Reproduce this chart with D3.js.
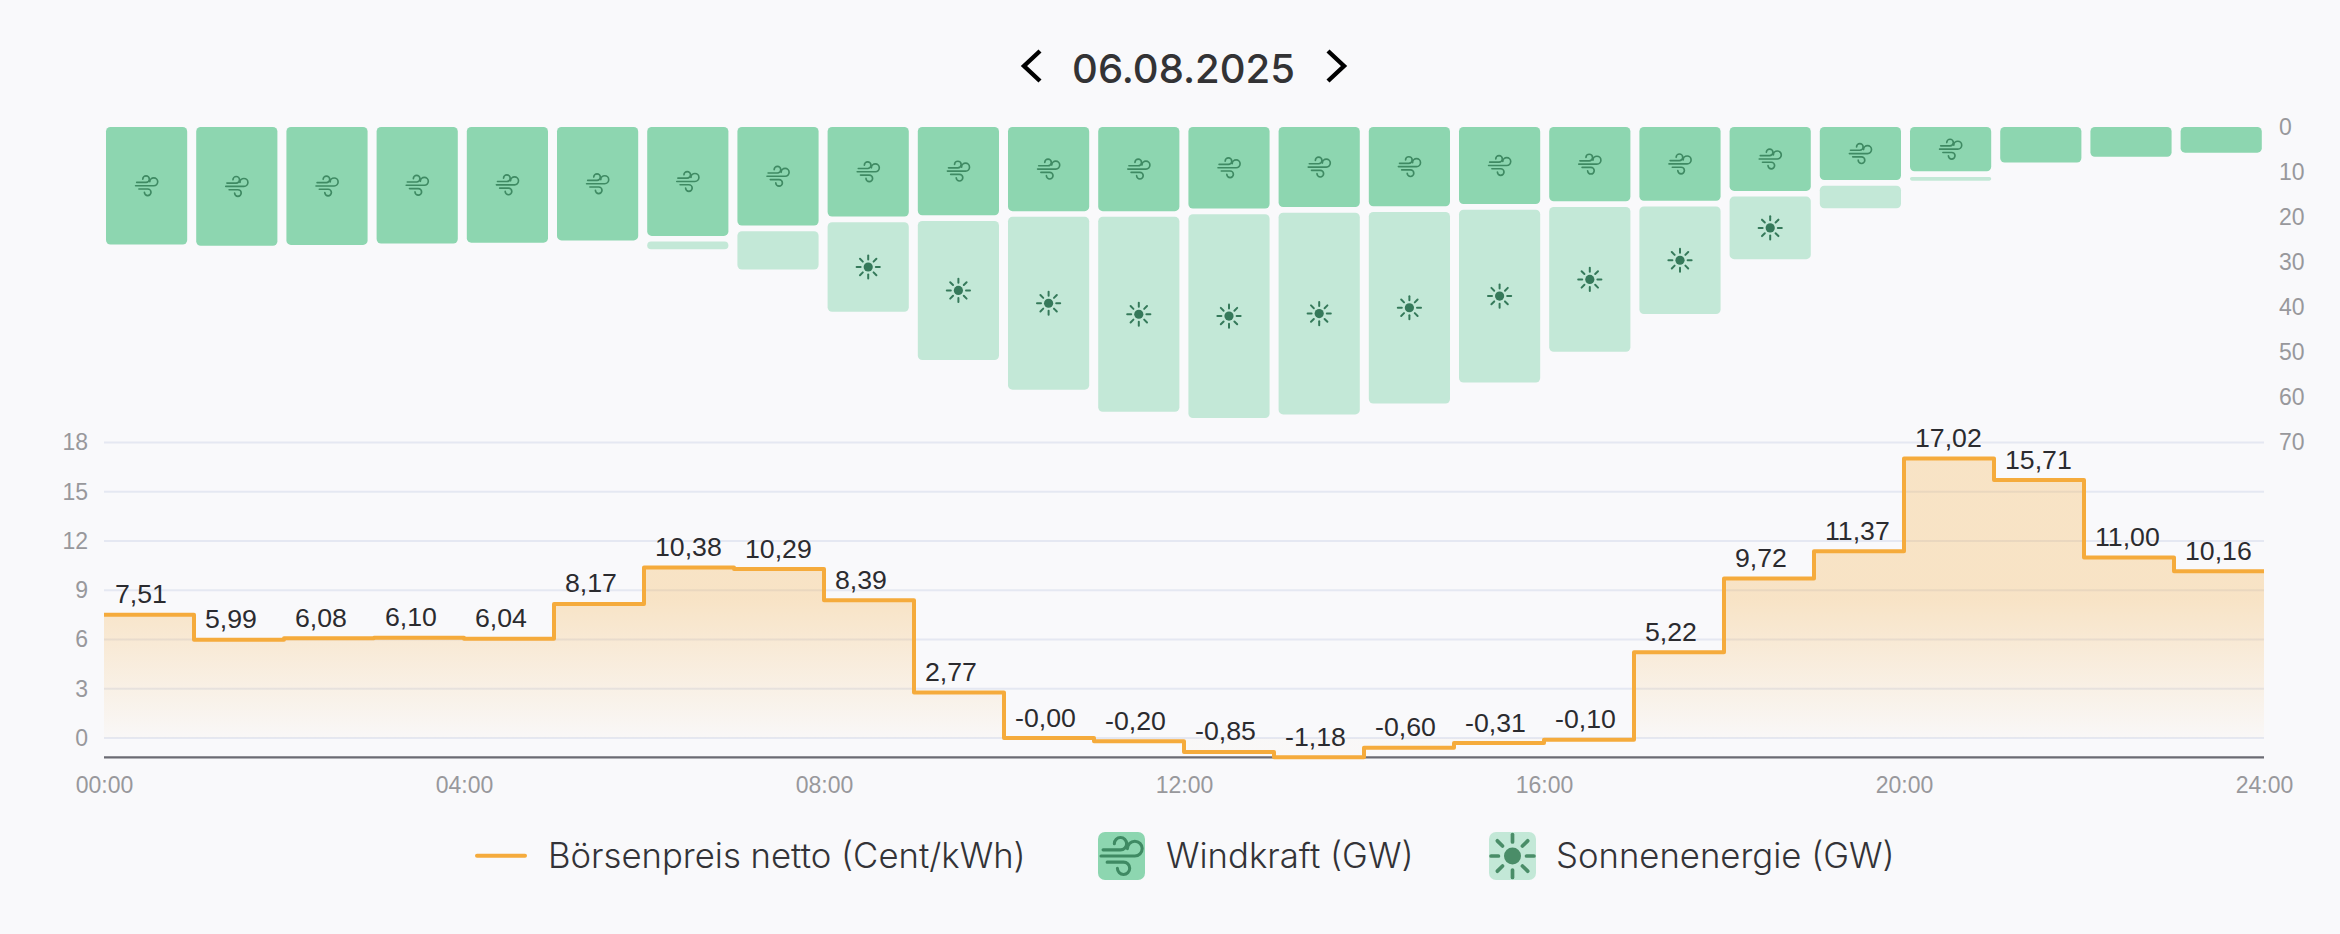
<!DOCTYPE html>
<html lang="de">
<head>
    <meta charset="UTF-8">
    <title>Börsenpreis, Windkraft und Sonnenenergie</title>
    <script src="https://d3js.org/d3.v7.min.js"></script>
    <style>
        html, body { margin: 0; padding: 0; background-color: #f9f9fb; }
        svg { display: block; }
        .axis text { font-family: 'Liberation Sans', sans-serif; font-size: 23px; fill: #98989c; }
        .price-label { font-family: 'Liberation Sans', sans-serif; font-size: 26.7px; fill: #2b2b2f; }
        .legend-label { font-family: 'Inter', sans-serif; font-weight: 300; font-size: 34.7px; fill: #333337; }
        .title { font-family: 'Inter', sans-serif; font-weight: 500; font-size: 40px; fill: #333335; }
    </style>
</head>
<body>
    <svg width="2340" height="934"></svg>

    <script>
        // data
        const hours = d3.range(24);
        const priceValues = [7.51, 5.99, 6.08, 6.10, 6.04, 8.17, 10.38, 10.29, 8.39, 2.77, -0.00, -0.20,
                             -0.85, -1.18, -0.60, -0.31, -0.10, 5.22, 9.72, 11.37, 17.02, 15.71, 11.00, 10.16];
        const priceLabels = ["7,51", "5,99", "6,08", "6,10", "6,04", "8,17", "10,38", "10,29", "8,39", "2,77", "-0,00", "-0,20",
                             "-0,85", "-1,18", "-0,60", "-0,31", "-0,10", "5,22", "9,72", "11,37", "17,02", "15,71", "11,00", "10,16"];
        const windValues = [26.1, 26.4, 26.2, 25.9, 25.7, 25.2, 24.2, 21.9, 19.9, 19.6, 18.7, 18.7,
                            18.1, 17.8, 17.6, 17.1, 16.5, 16.4, 14.2, 11.8, 9.85, 7.9, 6.6, 5.7];
        const solarValues = [0, 0, 0, 0, 0, 0, 1.7, 8.5, 19.9, 30.9, 38.4, 43.3,
                             45.3, 44.8, 42.6, 38.4, 32.2, 23.9, 13.9, 5.0, 0.8, 0, 0, 0];
        const priceTicks = [0, 3, 6, 9, 12, 15, 18];
        const powerTicks = [0, 10, 20, 30, 40, 50, 60, 70];
        const hourTicks = [0, 4, 8, 12, 16, 20, 24];
        const dateLabel = "06.08.2025";
        const legendLabels = ["Börsenpreis netto (Cent/kWh)", "Windkraft (GW)", "Sonnenenergie (GW)"];

        const colors = { wind: "#8dd6b0", solar: "#c3e8d7", icon: "#3f8a63", sun: "#35795a", price: "#f5ab3c",
                         grid: "#e5e8f2", axis: "#6b6b73" };

        const svg = d3.select("svg");
        const left = 104, right = 2264, barGap = 5.7, iconMinHeight = 40;

        // Scales
        const xTime = d3.scaleLinear().domain([0, 24]).range([left, right]);
        const xBand = d3.scaleBand().domain(hours).range([101.5, 2266.3]).paddingInner(0.1).paddingOuter(0.05);
        const yPower = d3.scaleLinear().domain([0, 70]).range([127, 442]);
        const yPrice = d3.scaleLinear().domain([0, 18]).range([738, 442.5]);

        // Gradient under the price line
        const gradient = svg.append("defs").append("linearGradient")
            .attr("id", "priceFill")
            .attr("gradientUnits", "userSpaceOnUse")
            .attr("x1", 0).attr("x2", 0)
            .attr("y1", yPrice(17.02)).attr("y2", yPrice(0));
        gradient.selectAll("stop")
            .data([{ offset: "0%", opacity: 0.28 }, { offset: "50%", opacity: 0.28 }, { offset: "100%", opacity: 0.02 }])
            .enter().append("stop")
            .attr("offset", d => d.offset)
            .attr("stop-color", colors.price)
            .attr("stop-opacity", d => d.opacity);

        // Title with arrows
        svg.append("text").attr("class", "title")
            .attr("x", 1183.5).attr("y", 82.7).attr("text-anchor", "middle").text(dateLabel);
        svg.selectAll(".chevron")
            .data(["M1040 51L1024 66L1040 81", "M1328 51L1344 66L1328 81"])
            .enter().append("path")
            .attr("class", "chevron")
            .attr("d", d => d)
            .attr("fill", "none").attr("stroke", "#000").attr("stroke-width", 4.4);

        // Grid lines
        svg.append("g").selectAll("line")
            .data(priceTicks)
            .enter().append("line")
            .attr("x1", left).attr("x2", right)
            .attr("y1", d => yPrice(d)).attr("y2", d => yPrice(d))
            .attr("stroke", colors.grid).attr("stroke-width", 2);

        // Icons
        function windIcon(g, scale, stroke) {
            g.append("path")
                .attr("transform", `scale(${scale}) translate(-12,-12.5)`)
                .attr("d", "M3 9.5H11.5A3 3 0 1 0 8.5 6.5M2 12.5H18.5A3.6 3.6 0 1 0 14.9 8.9M5 15.5H13A3 3 0 1 1 10 18.5")
                .attr("fill", "none")
                .attr("stroke", stroke)
                .attr("stroke-width", 1.5)
                .attr("stroke-linecap", "round");
        }

        function sunIcon(g, scale, stroke) {
            g.append("circle").attr("r", 4.6 * scale).attr("fill", stroke);
            g.selectAll("line")
                .data(d3.range(8))
                .enter().append("line")
                .attr("transform", d => `rotate(${d * 45})`)
                .attr("y1", -7.6 * scale).attr("y2", -11.6 * scale)
                .attr("stroke", stroke)
                .attr("stroke-width", 2 * scale)
                .attr("stroke-linecap", "round");
        }

        // Power bars
        const barData = hours.map(h => ({ hour: h, wind: windValues[h], solar: solarValues[h] }));

        const windBars = svg.append("g").selectAll("g").data(barData).enter().append("g");
        windBars.append("rect")
            .attr("x", d => xBand(d.hour))
            .attr("y", yPower(0))
            .attr("width", xBand.bandwidth())
            .attr("height", d => yPower(d.wind) - yPower(0))
            .attr("rx", 4.5)
            .attr("fill", colors.wind);
        windBars.filter(d => yPower(d.wind) - yPower(0) > iconMinHeight)
            .append("g")
            .attr("transform", d => `translate(${xBand(d.hour) + xBand.bandwidth() / 2},${(yPower(0) + yPower(d.wind)) / 2})`)
            .each(function () { windIcon(d3.select(this), 1.1, colors.icon); });

        const solarBars = svg.append("g").selectAll("g").data(barData.filter(d => d.solar > 0)).enter().append("g");
        solarBars.append("rect")
            .attr("x", d => xBand(d.hour))
            .attr("y", d => yPower(d.wind) + barGap)
            .attr("width", xBand.bandwidth())
            .attr("height", d => yPower(d.solar) - yPower(0))
            .attr("rx", d => Math.min(4.5, (yPower(d.solar) - yPower(0)) / 2))
            .attr("fill", colors.solar);
        solarBars.filter(d => yPower(d.solar) - yPower(0) > iconMinHeight)
            .append("g")
            .attr("transform", d => `translate(${xBand(d.hour) + xBand.bandwidth() / 2},${yPower(d.wind) + barGap + (yPower(d.solar) - yPower(0)) / 2})`)
            .each(function () { sunIcon(d3.select(this), 1, colors.sun); });

        // Price area and step line
        const stepData = priceValues.map((v, i) => ({ hour: i, value: v }))
            .concat([{ hour: 24, value: priceValues[23] }]);

        svg.append("path")
            .datum(stepData)
            .attr("fill", "url(#priceFill)")
            .attr("d", d3.area().curve(d3.curveStepAfter)
                .x(d => xTime(d.hour)).y0(yPrice(0)).y1(d => yPrice(d.value)));

        // Axis line sits at the lowest price
        svg.append("line")
            .attr("x1", left).attr("x2", right)
            .attr("y1", yPrice(-1.18)).attr("y2", yPrice(-1.18))
            .attr("stroke", colors.axis).attr("stroke-width", 2.4);

        svg.append("path")
            .datum(stepData)
            .attr("fill", "none")
            .attr("stroke", colors.price)
            .attr("stroke-width", 4)
            .attr("stroke-linejoin", "round")
            .attr("stroke-linecap", "butt")
            .attr("d", d3.line().curve(d3.curveStepAfter)
                .x(d => xTime(d.hour)).y(d => yPrice(d.value)));

        // Price labels
        svg.append("g").selectAll("text")
            .data(stepData.slice(0, 24))
            .enter().append("text")
            .attr("class", "price-label")
            .attr("x", d => xTime(d.hour) + 11)
            .attr("y", d => yPrice(d.value) - 11.5)
            .text((d, i) => priceLabels[i]);

        // Axes
        const axisLeft = svg.append("g").attr("class", "axis")
            .attr("transform", `translate(${left},0)`)
            .call(d3.axisLeft(yPrice).tickValues(priceTicks).tickSize(0).tickPadding(16));
        const axisRight = svg.append("g").attr("class", "axis")
            .attr("transform", `translate(${right},0)`)
            .call(d3.axisRight(yPower).tickValues(powerTicks).tickSize(0).tickPadding(15));
        const axisBottom = svg.append("g").attr("class", "axis")
            .attr("transform", "translate(0,769)")
            .call(d3.axisBottom(xTime).tickValues(hourTicks).tickSize(0).tickPadding(8)
                .tickFormat(d => d3.format("02")(d) + ":00"));
        [axisLeft, axisRight, axisBottom].forEach(a => a.select(".domain").remove());

        // Legend
        const legendBaseline = 868, legendMiddle = 855.7;
        svg.append("line")
            .attr("x1", 477).attr("x2", 525)
            .attr("y1", legendMiddle).attr("y2", legendMiddle)
            .attr("stroke", colors.price).attr("stroke-width", 4).attr("stroke-linecap", "round");
        svg.append("text").attr("class", "legend-label").attr("x", 548).attr("y", legendBaseline).text(legendLabels[0]);

        svg.append("rect").attr("x", 1098).attr("y", 832).attr("width", 47).attr("height", 48).attr("rx", 7).attr("fill", colors.wind);
        windIcon(svg.append("g").attr("transform", "translate(1121.5,856)"), 2.05, colors.icon);
        svg.append("text").attr("class", "legend-label").attr("x", 1166).attr("y", legendBaseline).text(legendLabels[1]);

        svg.append("rect").attr("x", 1489).attr("y", 832).attr("width", 47).attr("height", 48).attr("rx", 7).attr("fill", colors.solar);
        sunIcon(svg.append("g").attr("transform", "translate(1512.5,856)"), 1.85, "#4a8d68");
        svg.append("text").attr("class", "legend-label").attr("x", 1556).attr("y", legendBaseline).text(legendLabels[2]);
    </script>
</body>
</html>
